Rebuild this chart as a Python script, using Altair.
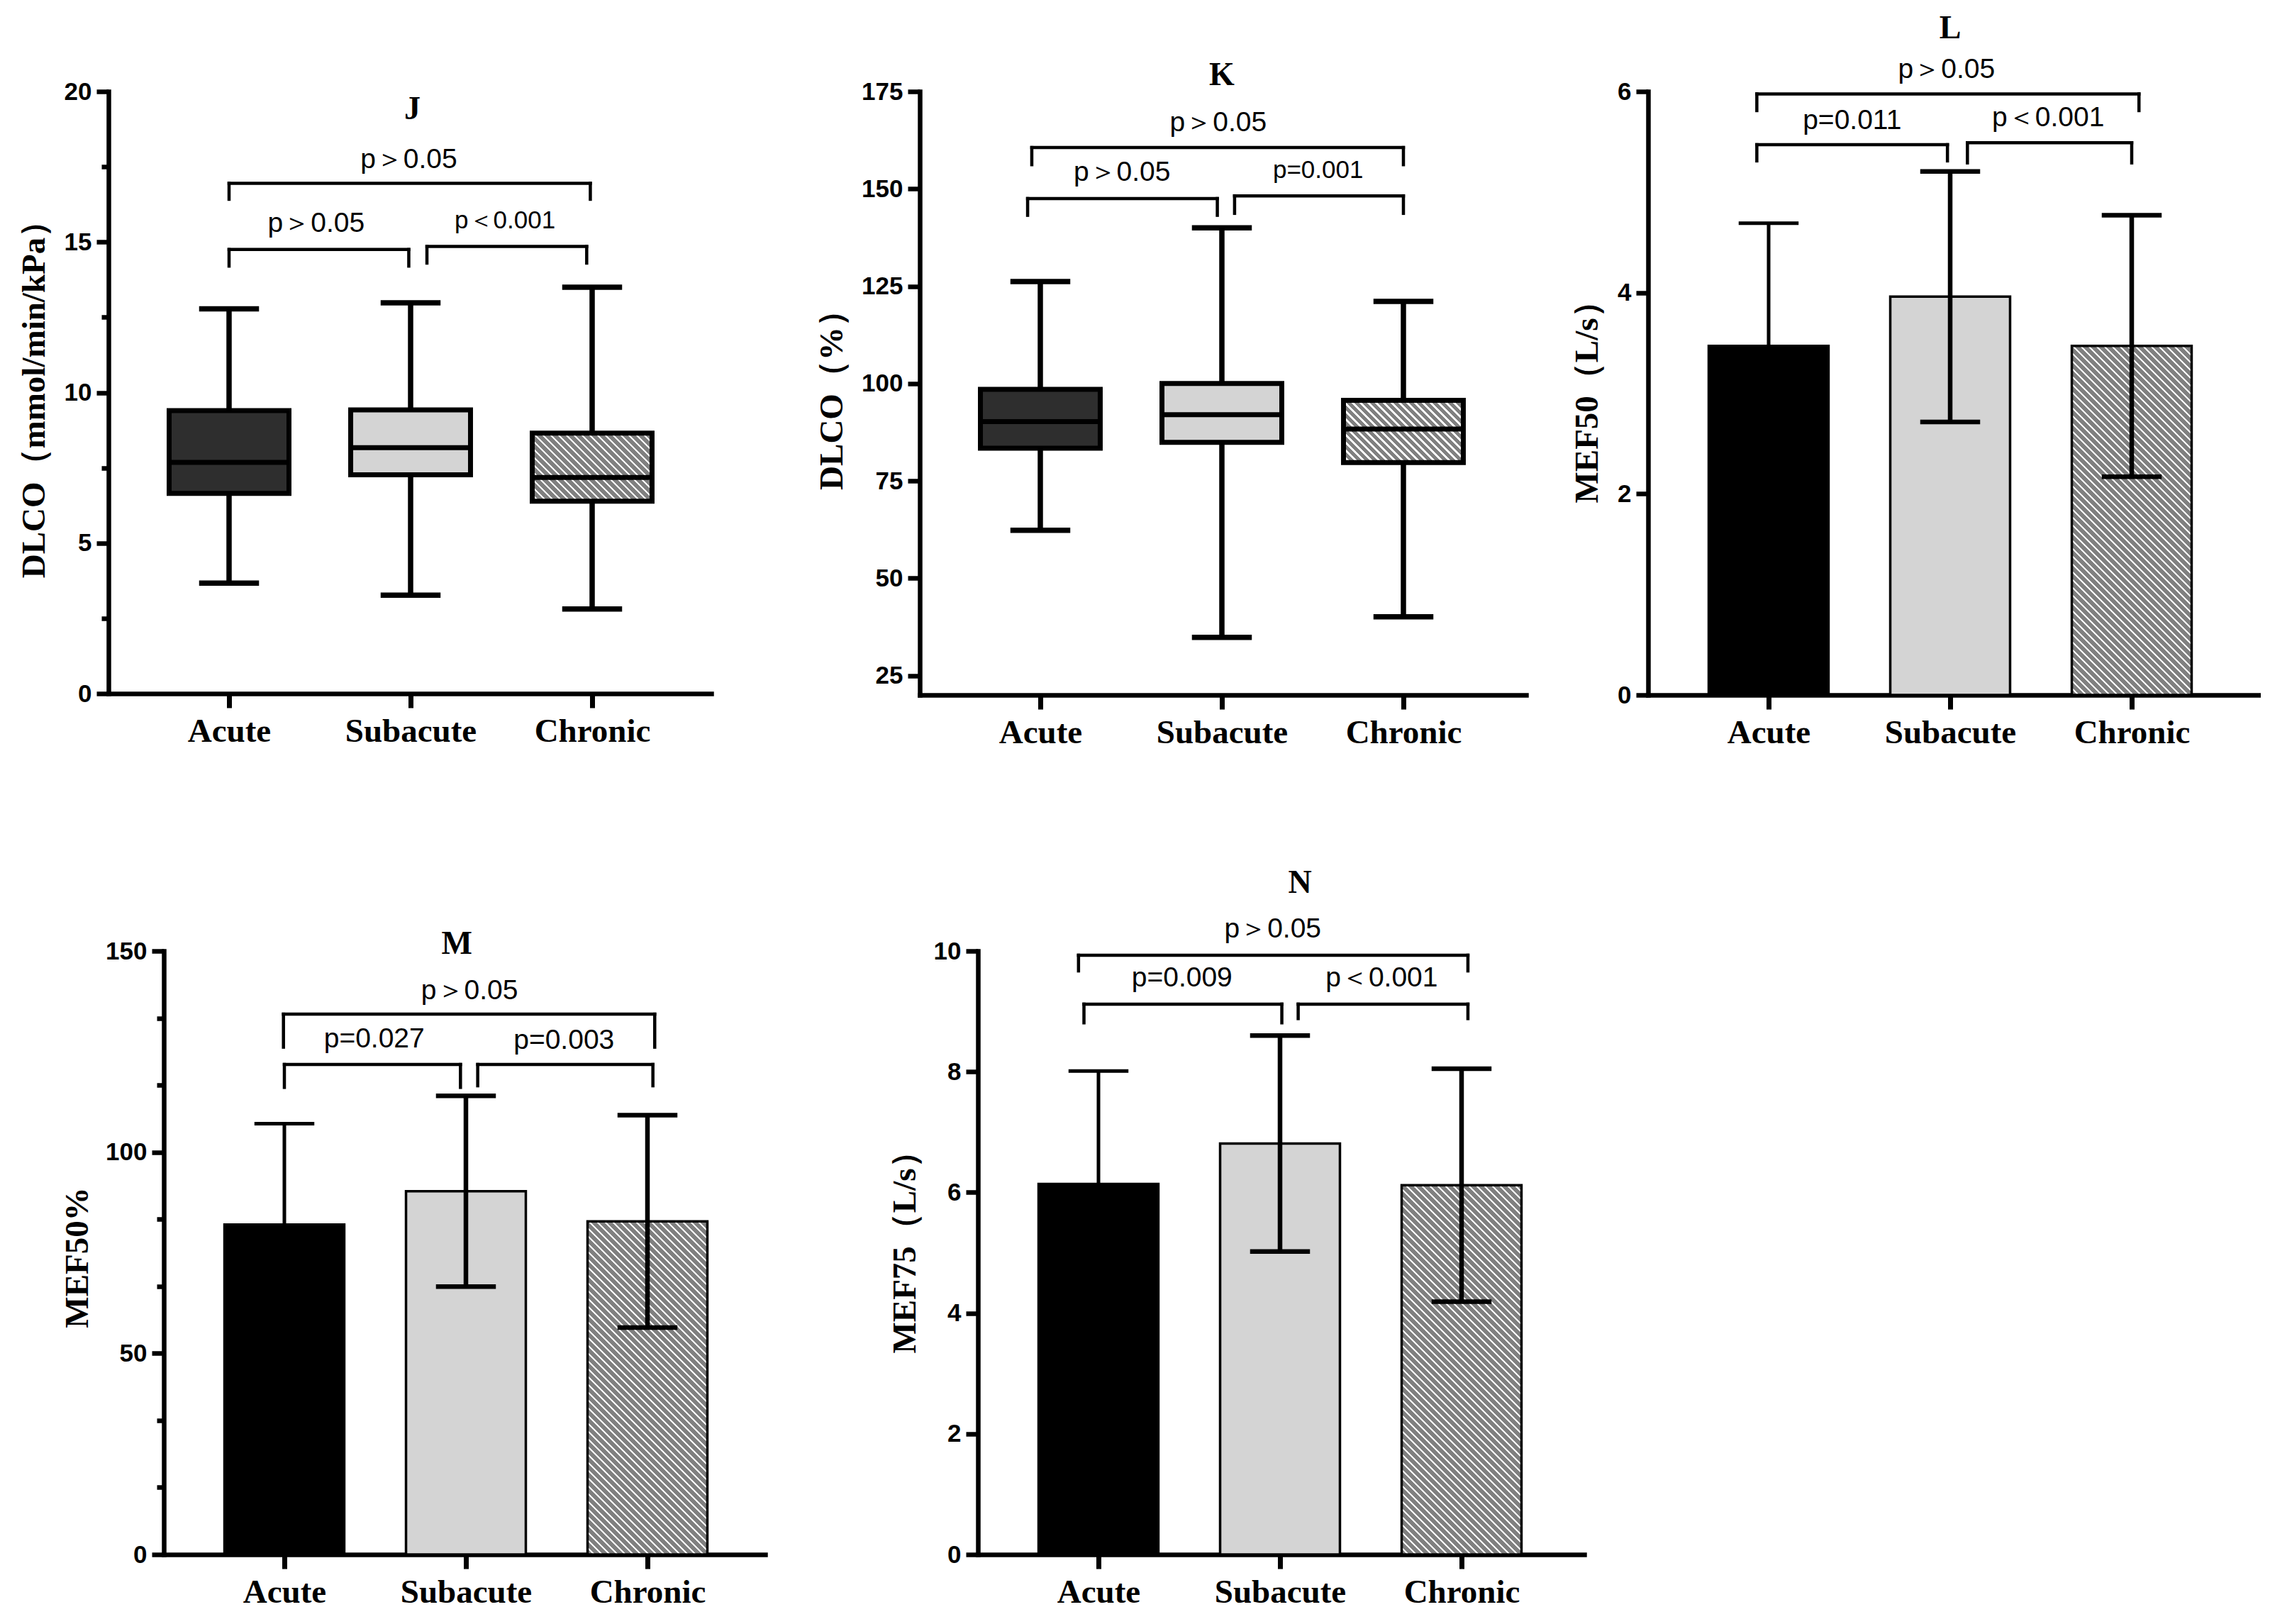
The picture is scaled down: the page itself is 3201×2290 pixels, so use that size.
import altair as alt
import pandas as pd

groups = ["Acute", "Subacute", "Chronic"]
gpos = [1, 2, 3]

# ---- J: DLCO (mmol/min/kPa), box plot: min, Q1, median, Q3, max
J_min = [3.67, 3.27, 2.81]
J_q1 = [6.65, 7.27, 6.39]
J_med = [7.68, 8.17, 7.18]
J_q3 = [9.40, 9.42, 8.65]
J_max = [12.78, 12.98, 13.50]

# ---- K: DLCO (%), box plot
K_min = [62.3, 34.8, 40.1]
K_q1 = [83.4, 84.9, 79.7]
K_med = [90.2, 92.0, 88.3]
K_q3 = [98.5, 100.0, 95.7]
K_max = [126.2, 140.0, 121.1]

# ---- L / M / N: mean and SD
L_mean = [3.47, 3.96, 3.47]
L_sd = [1.22, 1.245, 1.30]
M_mean = [82.0, 90.3, 82.8]
M_sd = [25.1, 23.7, 26.4]
N_mean = [6.14, 6.81, 6.12]
N_sd = [1.87, 1.79, 1.93]

# ---- significance brackets: (x start, x end, y of line, y of tips)
J_br = [(1.0, 2.99, 16.95, 16.42), (1.0, 1.99, 14.75, 14.2), (2.09, 2.97, 14.85, 14.3)]
K_br = [(0.953, 3.0, 160.6, 156.2), (0.93, 1.975, 147.5, 143.2), (2.07, 3.0, 148.2, 143.7)]
L_br = [(0.935, 3.04, 5.976, 5.81), (0.935, 1.985, 5.471, 5.31), (2.095, 3.0, 5.49, 5.29)]
M_br = [(0.995, 3.04, 134.3, 126.1), (1.0, 1.97, 121.8, 116.1), (2.065, 3.03, 121.8, 116.5)]
N_br = [(0.89, 3.035, 9.93, 9.67), (0.92, 2.01, 9.12, 8.81), (2.10, 3.035, 9.12, 8.88)]

# ---- p-value labels: (text, x, y, font size)
J_pt = [("p＞0.05", 1.99, 17.75, 39), ("p＞0.05", 1.48, 15.62, 39), ("p＜0.001", 2.52, 15.72, 35)]
K_pt = [("p＞0.05", 1.98, 167.0, 39), ("p＞0.05", 1.45, 154.2, 39), ("p=0.001", 2.53, 154.8, 35)]
L_pt = [("p＞0.05", 1.98, 6.22, 39), ("p=0.011", 1.46, 5.71, 39), ("p＜0.001", 2.54, 5.74, 39)]
M_pt = [("p＞0.05", 2.02, 140.1, 39), ("p=0.027", 1.495, 128.2, 39), ("p=0.003", 2.54, 127.8, 39)]
N_pt = [("p＞0.05", 1.96, 10.37, 39), ("p=0.009", 1.46, 9.55, 39), ("p＜0.001", 2.56, 9.55, 39)]

# ---- panel letters: (letter, x, y)
J_lt = ("J", 2.01, 19.42)
K_lt = ("K", 2.0, 179.1)
L_lt = ("L", 2.0, 6.63)
M_lt = ("M", 1.95, 151.8)
N_lt = ("N", 2.11, 11.13)

# ---------------- styling ----------------
STEP = 256.0
LEFT = 170.0
BOX_HALF = 0.33
CAP_HALF = 0.165
ACUTE_BOX = "#2e2e2e"
LIGHT = "#d4d4d4"
HATCH = "#808080"
SANS = "Liberation Sans"
SERIF = "Liberation Serif"

label_expr = " : ".join(
    [f"datum.value == {p} ? '{g}'" for p, g in zip(gpos[:-1], groups[:-1])] + [f"'{groups[-1]}'"]
)

xaxis = alt.Axis(
    values=gpos, labelExpr=label_expr, grid=False,
    domainColor="black", domainWidth=6.5, domainCap="square",
    tickColor="black", tickWidth=7, tickSize=20,
    labelFont=SERIF, labelFontWeight="bold", labelFontSize=47, labelColor="black",
    labelBaseline="alphabetic", labelPadding=47, labelOverlap=False, labelLimit=1000,
)


def make_yaxis(values, title, tx, ty, major_test=None):
    kw = dict(
        values=values, grid=False, title=title,
        domainColor="black", domainWidth=6.5, domainCap="square",
        tickColor="black", tickWidth=6.5, tickSize=17,
        labelFont=SANS, labelFontWeight="bold", labelFontSize=35, labelColor="black",
        labelPadding=7, labelLimit=1000,
        titleFont=SERIF, titleFontWeight="bold", titleFontSize=47, titleColor="black",
        titleAngle=270, titleAlign="center", titleBaseline="middle",
        titleX=tx, titleY=ty, titleLimit=2000,
    )
    if major_test:
        kw["labelExpr"] = f"({major_test}) ? datum.label : ''"
        kw["tickSize"] = {"condition": {"test": f"!({major_test})", "value": 10}, "value": 17}
    return alt.Axis(**kw)


def hatch(w, h, period=11.0, frac=0.7):
    t = (w + h) / (w * w + h * h)
    n = (w + h) / period
    stops = []
    k = 0
    while k < n:
        a = k / n
        b = min((k + frac) / n, 1.0)
        c = min((k + 1) / n, 1.0)
        stops += [
            {"offset": a, "color": HATCH}, {"offset": b, "color": HATCH},
            {"offset": b, "color": "#ffffff"}, {"offset": c, "color": "#ffffff"},
        ]
        k += 1
    return {"gradient": "linear", "x1": 0, "y1": 1, "x2": t * w, "y2": 1 - t * h, "stops": stops}


class Panel:
    def __init__(self, W, H, ydom, yaxis):
        self.W, self.H, self.ydom, self.yaxis = W, H, ydom, yaxis
        x0 = 1 - LEFT / STEP
        self.xscale = alt.Scale(domain=[x0, x0 + W / STEP], nice=False, zero=False)
        self.yscale = alt.Scale(domain=ydom, nice=False, zero=False)

    def X(self, f):
        return alt.X(f"{f}:Q", scale=self.xscale, axis=xaxis, title=None)

    def Y(self, f):
        return alt.Y(f"{f}:Q", scale=self.yscale, axis=self.yaxis)

    def px_h(self, dv):
        return dv * self.H / (self.ydom[1] - self.ydom[0])


def annotations(P, brackets, ptexts, letter):
    bdf = pd.DataFrame(brackets, columns=["x1", "x2", "yl", "yt"])
    ddf = pd.DataFrame({
        "xd": list(bdf["x1"]) + list(bdf["x2"]),
        "yl": list(bdf["yl"]) * 2,
        "yt": list(bdf["yt"]) * 2,
    })
    horiz = alt.Chart(bdf).mark_rule(color="black", strokeWidth=4.5, strokeCap="square").encode(
        x=P.X("x1"), x2="x2", y=P.Y("yl"))
    vert = alt.Chart(ddf).mark_rule(color="black", strokeWidth=4.5, strokeCap="square").encode(
        x=P.X("xd"), y=P.Y("yl"), y2="yt")
    tdf = pd.DataFrame(ptexts, columns=["t", "x", "y", "fs"])
    txt = alt.Chart(tdf).mark_text(font=SANS, color="black", align="center", baseline="middle").encode(
        x=P.X("x"), y=P.Y("y"), text="t:N", size=alt.Size("fs:Q", scale=None, legend=None))
    ldf = pd.DataFrame([letter], columns=["t", "x", "y"])
    let = alt.Chart(ldf).mark_text(font=SERIF, fontWeight="bold", fontSize=46, color="black",
                                   align="center", baseline="middle").encode(
        x=P.X("x"), y=P.Y("y"), text="t:N")
    return [horiz, vert, txt, let]


def box_panel(P, mins, q1, med, q3, maxs, brackets, ptexts, letter):
    df = pd.DataFrame({"pos": gpos, "mn": mins, "q1": q1, "md": med, "q3": q3, "mx": maxs})
    df["lo"] = df["pos"] - BOX_HALF
    df["hi"] = df["pos"] + BOX_HALF
    df["clo"] = df["pos"] - CAP_HALF
    df["chi"] = df["pos"] + CAP_HALF
    base = alt.Chart(df)
    layers = [
        base.mark_rule(color="black", strokeWidth=7.5).encode(x=P.X("pos"), y=P.Y("mn"), y2="mx"),
        base.mark_rule(color="black", strokeWidth=7.5).encode(x=P.X("clo"), x2="chi", y=P.Y("mx")),
        base.mark_rule(color="black", strokeWidth=7.5).encode(x=P.X("clo"), x2="chi", y=P.Y("mn")),
    ]
    fills = [ACUTE_BOX, LIGHT, None]
    for i in range(3):
        row = df.iloc[[i]]
        if fills[i] is None:
            fill = hatch(2 * BOX_HALF * STEP, P.px_h(q3[i] - q1[i]))
        else:
            fill = fills[i]
        layers.append(alt.Chart(row).mark_rect(fill=fill, stroke="black", strokeWidth=7).encode(
            x=P.X("lo"), x2="hi", y=P.Y("q1"), y2="q3"))
    layers.append(base.mark_rule(color="black", strokeWidth=7).encode(x=P.X("lo"), x2="hi", y=P.Y("md")))
    layers += annotations(P, brackets, ptexts, letter)
    return alt.layer(*layers).properties(width=P.W, height=P.H)


def bar_panel(P, means, sds, brackets, ptexts, letter):
    df = pd.DataFrame({"pos": gpos, "mean": means, "sd": sds})
    df["up"] = df["mean"] + df["sd"]
    df["dn"] = df["mean"] - df["sd"]
    df["zero"] = P.ydom[0]
    df["lo"] = df["pos"] - BOX_HALF
    df["hi"] = df["pos"] + BOX_HALF
    df["clo"] = df["pos"] - CAP_HALF
    df["chi"] = df["pos"] + CAP_HALF
    layers = []
    fills = ["#000000", LIGHT, None]
    for i in range(3):
        row = df.iloc[[i]]
        if fills[i] is None:
            fill = hatch(2 * BOX_HALF * STEP, P.px_h(means[i] - P.ydom[0]))
        else:
            fill = fills[i]
        layers.append(alt.Chart(row).mark_rect(fill=fill, stroke="black", strokeWidth=3.5).encode(
            x=P.X("lo"), x2="hi", y=P.Y("zero"), y2="mean"))
    widths = [5, 6.5, 6.5]
    for i in range(3):
        rb = alt.Chart(df.iloc[[i]])
        w = widths[i]
        layers += [
            rb.mark_rule(color="black", strokeWidth=w).encode(x=P.X("pos"), y=P.Y("dn"), y2="up"),
            rb.mark_rule(color="black", strokeWidth=w).encode(x=P.X("clo"), x2="chi", y=P.Y("up")),
            rb.mark_rule(color="black", strokeWidth=w).encode(x=P.X("clo"), x2="chi", y=P.Y("dn")),
        ]
    layers += annotations(P, brackets, ptexts, letter)
    return alt.layer(*layers).properties(width=P.W, height=P.H)


def spacer(w, h, top=0, bottom=0):
    # invisible marker fixing the extent of a row
    return alt.Chart(pd.DataFrame({"a": [0]})).mark_rule(opacity=0).encode(
        x=alt.value(0), y=alt.value(-top), y2=alt.value(bottom)).properties(width=w, height=h)


PJ = Panel(850, 849, [0, 20],
           make_yaxis([0, 2.5, 5, 7.5, 10, 12.5, 15, 17.5, 20], "DLCO（mmol/min/kPa）", -105, 422,
                      "datum.value % 5 == 0"))
PK = Panel(855, 851, [20, 175],
           make_yaxis([25, 50, 75, 100, 125, 150, 175], "DLCO（%）", -124, 423))
PL = Panel(864, 851, [0, 6],
           make_yaxis([0, 2, 4, 6], "MEF50（L/s）", -86, 426))
PM = Panel(848, 851, [0, 150],
           make_yaxis([i * 50 / 3 for i in range(10)], "MEF50%", -122, 432,
                      "abs(datum.value - round(datum.value)) < 0.01 && round(datum.value) % 50 == 0"))
PN = Panel(855, 851, [0, 10],
           make_yaxis([0, 2, 4, 6, 8, 10], "MEF75（L/s）", -103, 413))

chartJ = box_panel(PJ, J_min, J_q1, J_med, J_q3, J_max, J_br, J_pt, J_lt)
chartK = box_panel(PK, K_min, K_q1, K_med, K_q3, K_max, K_br, K_pt, K_lt)
chartL = bar_panel(PL, L_mean, L_sd, L_br, L_pt, L_lt)
chartM = bar_panel(PM, M_mean, M_sd, M_br, M_pt, M_lt)
chartN = bar_panel(PN, N_mean, N_sd, N_br, N_pt, N_lt)

TOP_H = 851
BOT_H = 851
top = alt.hconcat(spacer(145, TOP_H, 121, 1053), chartJ, spacer(294, TOP_H), chartK,
                  spacer(172, TOP_H), chartL, spacing=0, bounds="flush")
bottom = alt.hconcat(spacer(223, BOT_H, 150, 0), chartM, spacer(300, BOT_H), chartN,
                     spacing=0, bounds="flush")

chart = alt.vconcat(top, bottom, spacing=9).properties(
    padding=0, background="white"
).configure_view(strokeWidth=0)

chart.save("out.html", embed_options={"renderer": "svg", "actions": False})
